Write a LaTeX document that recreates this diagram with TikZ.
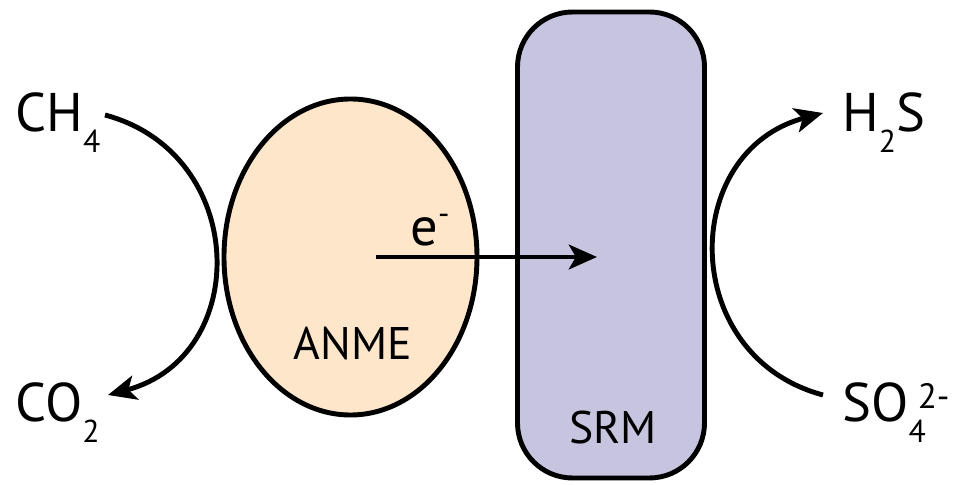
\documentclass[tikz,border=0pt]{standalone}
\usepackage{fontspec}
\setmainfont{PT Sans}
\usetikzlibrary{arrows.meta,shapes.geometric}
\definecolor{anmefill}{RGB}{253,230,202}
\definecolor{srmfill}{RGB}{199,196,224}
\newcommand{\chemsub}[1]{\raisebox{-0.42cm}{\fontsize{18}{18}\selectfont #1}}
\newcommand{\chemsup}[1]{\raisebox{0.26cm}{\fontsize{20}{20}\selectfont #1}}

\begin{document}
\begin{tikzpicture}[
	flow/.style = {-{Stealth[length=16pt, width=14pt, inset=4pt]}, line width=2.8pt},
	chem/.style = {inner sep=0, anchor=base west, font=\fontsize{31}{36}\selectfont},
	cell/.style = {draw, line width=2.8pt, inner sep=0},
	tag/.style = {font=\fontsize{26}{30}\selectfont}
]
\useasboundingbox (0,0) rectangle (19.1,9.7);
% the two cells
\node[cell, ellipse, fill=anmefill, minimum width=5.06cm, minimum height=6.32cm] (anme) at (7.01,4.56) {};
\node[cell, rounded corners=1.1cm, fill=srmfill, minimum width=3.74cm, minimum height=9.32cm] (srm) at (12.22,4.8) {};
\node[tag] (anmetag) at (7.06,2.82) {ANME};
\node[tag] (srmtag) at (12.26,1.14) {SRM};
% electron transfer
\coordinate (etip) at (11.94,4.56);
\draw[flow] ([xshift=0.5cm]anme.center) -- (etip);
\node[chem] (elec) at (8.2,4.78) {e\raisebox{0.42cm}{\fontsize{18}{18}\selectfont -}};
% reactions
\node[chem] (ch4) at (0.3,7.06) {CH\chemsub{4}};
\node[chem] (co2) at (0.3,1.26) {CO\chemsub{2}};
\node[chem] (h2s) at (16.84,7.06) {H\chemsub{2}S};
\node[chem] (so4) at (16.84,1.26) {SO\chemsub{4}\hspace{-0.16cm}\chemsup{2-}};
\draw[flow] ([shift={(1.8,0.34)}]ch4.base west) to[out=-15, in=15, looseness=1.36] ([shift={(1.86,0.54)}]co2.base west);
\draw[flow] ([shift={(-0.38,0.54)}]so4.base west) to[out=165, in=-165, looseness=1.36] ([shift={(-0.38,0.38)}]h2s.base west);
\end{tikzpicture}
\end{document}
